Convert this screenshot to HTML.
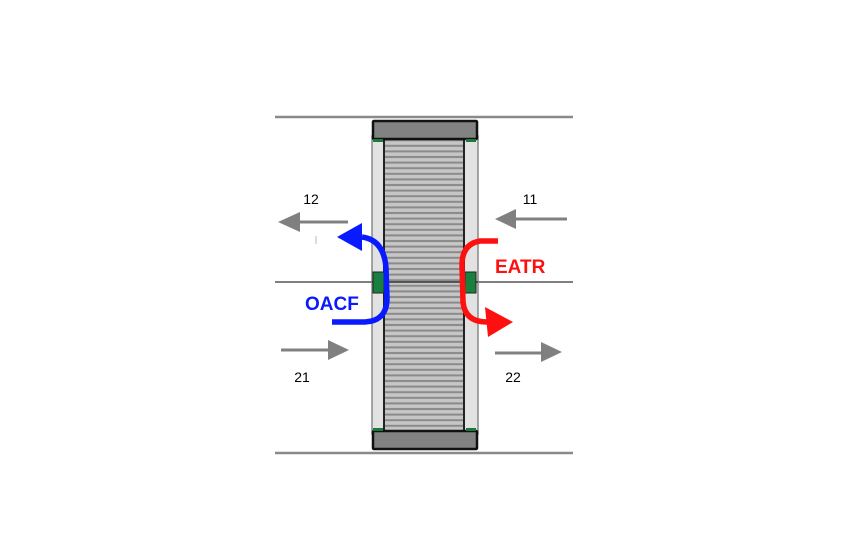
<!DOCTYPE html>
<html><head><meta charset="utf-8"><style>
html,body{margin:0;padding:0;background:#fff;width:850px;height:552px;overflow:hidden}
svg{display:block}
text{font-family:"Liberation Sans",sans-serif}
</style></head><body>
<svg width="850" height="552" viewBox="0 0 850 552" xmlns="http://www.w3.org/2000/svg">
<defs>
<pattern id="st" x="0" y="136" width="10" height="5.6" patternUnits="userSpaceOnUse">
<rect width="10" height="5.6" fill="#c6c6c6"/>
<rect y="3.2" width="10" height="2" fill="#8a8a8a"/>
</pattern>
<marker id="ga" markerWidth="8" markerHeight="8" refX="1" refY="4" orient="auto" markerUnits="userSpaceOnUse"></marker>
</defs>
<!-- duct lines -->
<line x1="275" y1="117" x2="573" y2="117" stroke="#8a8a8a" stroke-width="2.5"/>
<line x1="275" y1="282" x2="573" y2="282" stroke="#555" stroke-width="1.5"/>
<line x1="275" y1="453" x2="573" y2="453" stroke="#8a8a8a" stroke-width="2.5"/>
<!-- frame -->
<rect x="372" y="136" width="106" height="298" fill="#e2e2e2" stroke="#888" stroke-width="1.5"/>
<rect x="384" y="136" width="80" height="298" fill="url(#st)" stroke="#222" stroke-width="2"/>
<line x1="372" y1="282" x2="478" y2="282" stroke="#333" stroke-width="1.5"/>
<!-- caps -->
<rect x="373" y="121" width="104" height="18" fill="#828282" stroke="#111" stroke-width="2.5" rx="1"/>
<rect x="373" y="431" width="104" height="18" fill="#828282" stroke="#111" stroke-width="2.5" rx="1"/>
<rect x="373" y="139" width="10" height="3" fill="#1a7a3a"/>
<rect x="466" y="139" width="10" height="3" fill="#1a7a3a"/>
<rect x="373" y="428" width="10" height="3" fill="#1a7a3a"/>
<rect x="466" y="428" width="10" height="3" fill="#1a7a3a"/>
<!-- green blocks -->
<rect x="373" y="272" width="11" height="21" fill="#1a8040" stroke="#222" stroke-width="1"/>
<rect x="465" y="272" width="11" height="21" fill="#1a8040" stroke="#222" stroke-width="1"/>
<!-- gray arrows -->
<g stroke="#808080" stroke-width="3" fill="#808080">
<line x1="348" y1="222" x2="296" y2="222"/><polygon points="278,222 300,212 300,232" stroke="none"/>
<line x1="567" y1="219" x2="512" y2="219"/><polygon points="495,219 516,209 516,229" stroke="none"/>
<line x1="281" y1="350" x2="332" y2="350"/><polygon points="349,350 328,340 328,360" stroke="none"/>
<line x1="495" y1="353" x2="545" y2="353"/><polygon points="562,352 541,342 541,362" stroke="none"/>
</g>
<line x1="316" y1="236" x2="316" y2="244" stroke="#bbb" stroke-width="1"/>
<!-- blue -->
<path d="M332,322 L365,322 Q387,321 387,298 L386,268 Q384,240 362,237" fill="none" stroke="#0a1aff" stroke-width="5.5"/>
<polygon points="337,237 362,223 362,251" fill="#0a1aff"/>
<!-- red -->
<path d="M498,241 L480,241 Q462,244 462,265 L463,302 Q465,322 487,322" fill="none" stroke="#ff1010" stroke-width="5.5"/>
<polygon points="513,322 485,307 488,337" fill="#ff1010"/>
<!-- labels -->
<text x="311" y="204" font-size="14" text-anchor="middle" fill="#000">12</text>
<text x="530" y="204" font-size="14" text-anchor="middle" fill="#000">11</text>
<text x="302" y="382" font-size="14" text-anchor="middle" fill="#000">21</text>
<text x="513" y="382" font-size="14" text-anchor="middle" fill="#000">22</text>
<text x="305" y="310" font-size="19" font-weight="bold" fill="#0a1aff">OACF</text>
<text x="495" y="273" font-size="19" font-weight="bold" fill="#ff1010">EATR</text>
</svg>
</body></html>
